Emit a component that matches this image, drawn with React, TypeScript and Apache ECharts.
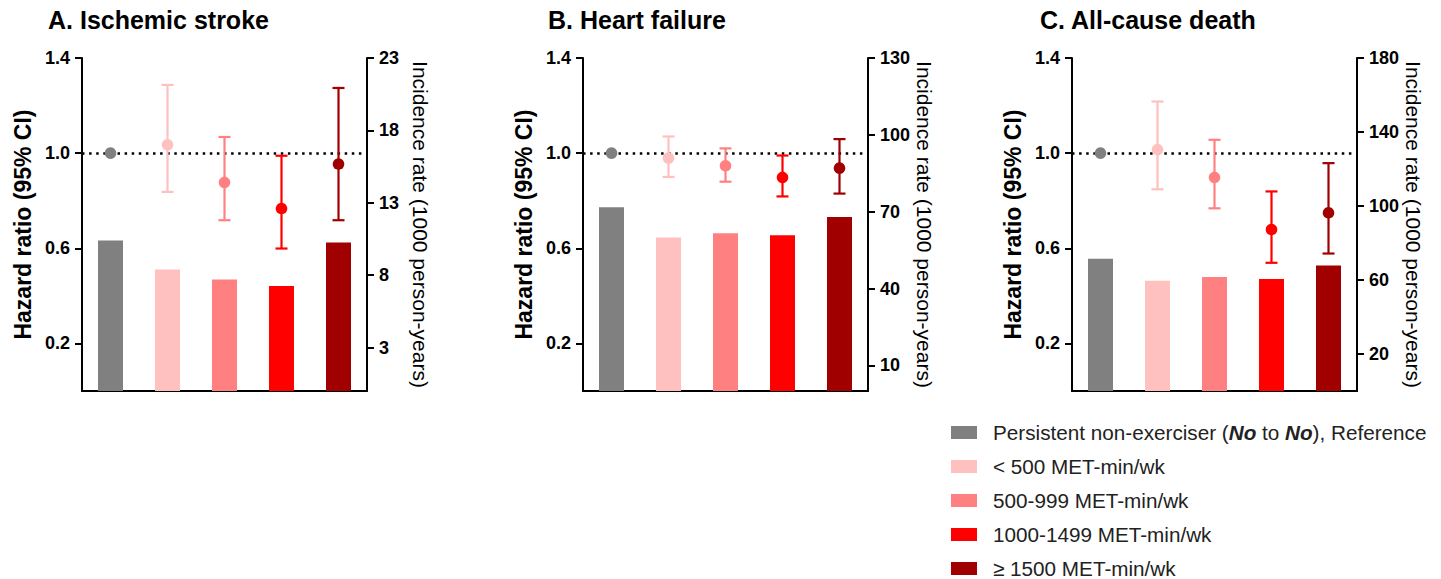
import React, { useEffect, useRef } from "react";
import * as echarts from "echarts";

const FONT = 'Arial, "Liberation Sans", Helvetica, sans-serif';

const categories = ["ref", "lt500", "500-999", "1000-1499", "ge1500"];
const groupNames = [
  "Persistent non-exerciser (No to No), Reference",
  "< 500 MET-min/wk",
  "500-999 MET-min/wk",
  "1000-1499 MET-min/wk",
  "≥ 1500 MET-min/wk",
];
const colors = ["#808080", "#FFC0C0", "#FF8080", "#FF0000", "#A00000"];

const panelTitles = ["A. Ischemic stroke", "B. Heart failure", "C. All-cause death"];

// Hazard ratios (left axis)
const hrA = [1.0, 1.035, 0.877, 0.767, 0.954];
const hrLowA = [null, 0.837, 0.718, 0.599, 0.718];
const hrHighA = [null, 1.287, 1.068, 0.989, 1.274];

const hrB = [1.0, 0.979, 0.947, 0.898, 0.937];
const hrLowB = [null, 0.9, 0.88, 0.818, 0.83];
const hrHighB = [null, 1.07, 1.02, 0.99, 1.059];

const hrC = [1.0, 1.015, 0.898, 0.679, 0.749];
const hrLowC = [null, 0.848, 0.768, 0.539, 0.578];
const hrHighC = [null, 1.217, 1.056, 0.839, 0.958];

// Incidence rates (right axis)
const irA = [10.4, 8.4, 7.7, 7.25, 10.25];
const irB = [71.7, 59.9, 61.6, 60.8, 67.9];
const irC = [71.5, 59.6, 61.6, 60.5, 67.9];

// Axis ticks
const hrTicks = [0.2, 0.6, 1.0, 1.4];
const irTicksA = [3, 8, 13, 18, 23];
const irTicksB = [10, 40, 70, 100, 130];
const irTicksC = [20, 60, 100, 140, 180];

const panels = [
  { title: panelTitles[0], hr: hrA, lo: hrLowA, hi: hrHighA, ir: irA, irTicks: irTicksA, irMax: 23 },
  { title: panelTitles[1], hr: hrB, lo: hrLowB, hi: hrHighB, ir: irB, irTicks: irTicksB, irMax: 130 },
  { title: panelTitles[2], hr: hrC, lo: hrLowC, hi: hrHighC, ir: irC, irTicks: irTicksC, irMax: 180 },
];

const gridLefts = [82, 583, 1072];
const titleLefts = [48, 548, 1040];

function buildOption() {
  const grid: any[] = [];
  const xAxis: any[] = [];
  const yAxis: any[] = [];
  const series: any[] = [];
  const title: any[] = [];

  panels.forEach((p, i) => {
    grid.push({ left: gridLefts[i], top: 58, width: 285, height: 333 });
    title.push({
      text: p.title,
      left: titleLefts[i],
      top: 7,
      padding: 0,
      textStyle: { fontFamily: FONT, fontSize: 25, fontWeight: "bold", color: "#000" },
    });
    xAxis.push({
      type: "category",
      gridIndex: i,
      data: categories,
      axisLine: { lineStyle: { color: "#000", width: 2 } },
      axisTick: { show: false },
      axisLabel: { show: false },
      splitLine: { show: false },
    });
    yAxis.push({
      type: "value",
      gridIndex: i,
      position: "left",
      min: 0,
      max: 1.4,
      name: "Hazard ratio (95% CI)",
      nameLocation: "middle",
      nameGap: 48,
      nameTextStyle: { fontFamily: FONT, fontSize: 23, fontWeight: "bold", color: "#000" },
      axisLine: { show: true, lineStyle: { color: "#000", width: 2 } },
      axisTick: { show: true, length: 7, customValues: hrTicks, lineStyle: { color: "#000", width: 2 } },
      axisLabel: {
        customValues: hrTicks,
        margin: 12,
        fontFamily: FONT,
        fontSize: 18,
        fontWeight: "bold",
        color: "#000",
        formatter: (v: number) => v.toFixed(1),
      },
      splitLine: { show: false },
    });
    yAxis.push({
      type: "value",
      gridIndex: i,
      position: "right",
      min: 0,
      max: p.irMax,
      name: "Incidence rate (1000 person-years)",
      nameLocation: "middle",
      nameRotate: -90,
      nameGap: 43,
      nameTextStyle: { fontFamily: FONT, fontSize: 21, fontWeight: "normal", color: "#000" },
      axisLine: { show: true, lineStyle: { color: "#000", width: 2 } },
      axisTick: { show: true, length: 7, customValues: p.irTicks, lineStyle: { color: "#000", width: 2 } },
      axisLabel: {
        customValues: p.irTicks,
        margin: 12,
        fontFamily: FONT,
        fontSize: 18,
        fontWeight: "bold",
        color: "#000",
      },
      splitLine: { show: false },
    });

    const hrAxisIndex = i * 2;
    const irAxisIndex = i * 2 + 1;

    groupNames.forEach((name, k) => {
      series.push({
        type: "bar",
        name,
        xAxisIndex: i,
        yAxisIndex: irAxisIndex,
        barWidth: 25,
        barGap: "-100%",
        itemStyle: { color: colors[k] },
        data: p.ir.map((v, j) => (j === k ? v : "-")),
        z: 2,
      });
    });

    const errData = p.hr.map((v, j) => [j, v, p.lo[j] ?? v, p.hi[j] ?? v]);
    series.push({
      type: "custom",
      name: "HR" + i,
      xAxisIndex: i,
      yAxisIndex: hrAxisIndex,
      z: 5,
      encode: { x: 0, y: [1, 2, 3] },
      data: errData,
      renderItem: (params: any, api: any) => {
        const idx = api.value(0);
        const mean = api.value(1);
        const lo = api.value(2);
        const hi = api.value(3);
        const pm = api.coord([idx, mean]);
        const color = colors[idx];
        const children: any[] = [];
        if (hi > lo) {
          const pl = api.coord([idx, lo]);
          const ph = api.coord([idx, hi]);
          const cw = 6;
          children.push({
            type: "line",
            shape: { x1: pm[0], y1: pl[1], x2: pm[0], y2: ph[1] },
            style: { stroke: color, lineWidth: 2.2 },
          });
          children.push({
            type: "line",
            shape: { x1: pm[0] - cw, y1: pl[1], x2: pm[0] + cw, y2: pl[1] },
            style: { stroke: color, lineWidth: 2.2 },
          });
          children.push({
            type: "line",
            shape: { x1: pm[0] - cw, y1: ph[1], x2: pm[0] + cw, y2: ph[1] },
            style: { stroke: color, lineWidth: 2.2 },
          });
        }
        children.push({
          type: "circle",
          shape: { cx: pm[0], cy: pm[1], r: 5.8 },
          style: { fill: color },
        });
        return { type: "group", children };
      },
      markLine: {
        silent: true,
        symbol: "none",
        label: { show: false },
        lineStyle: { color: "#000", width: 2.5, type: [2.5, 4.6] },
        data: [{ yAxis: 1.0 }],
        z: 1,
      },
    });
  });

  return {
    animation: false,
    backgroundColor: "#fff",
    textStyle: { fontFamily: FONT },
    title,
    grid,
    xAxis,
    yAxis,
    legend: {
      data: groupNames,
      orient: "vertical",
      left: 951,
      top: 422,
      height: 170,
      padding: 0,
      itemWidth: 26,
      itemHeight: 13,
      itemGap: 13,
      icon: "rect",
      selectedMode: false,
      textStyle: {
        fontFamily: FONT,
        fontSize: 20.7,
        lineHeight: 21,
        color: "#222",
        padding: [0, 0, 0, 11],
        rich: {
          b: {
            fontFamily: FONT,
            fontSize: 20.7,
            lineHeight: 21,
            fontWeight: "bold",
            fontStyle: "italic",
            color: "#222",
          },
        },
      },
      formatter: (name: string) =>
        name === groupNames[0] ? "Persistent non-exerciser ({b|No} to {b|No}), Reference" : name,
    },
    series,
  };
}

export default function App() {
  const ref = useRef<HTMLDivElement>(null);
  useEffect(() => {
    if (!ref.current) return;
    const chart = echarts.init(ref.current, undefined, { renderer: "svg" });
    chart.setOption(buildOption() as any);
    return () => chart.dispose();
  }, []);
  return (
    <div
      ref={ref}
      style={{ position: "fixed", left: 0, top: 0, width: 1441, height: 579, background: "#fff" }}
    />
  );
}
